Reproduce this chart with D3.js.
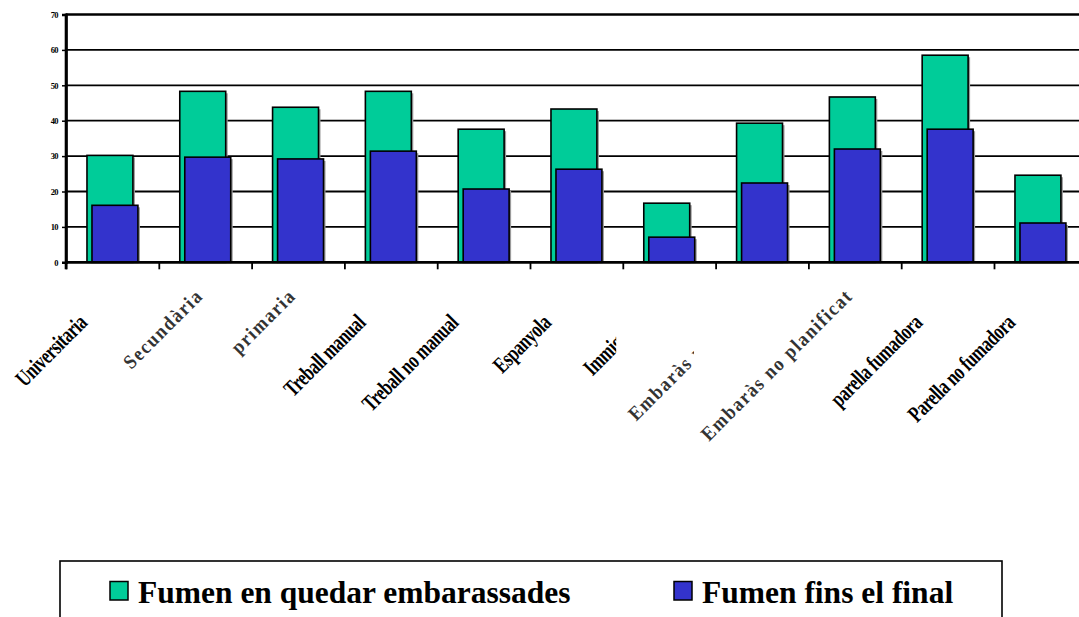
<!DOCTYPE html>
<html>
<head>
<meta charset="utf-8">
<script src="https://cdn.jsdelivr.net/npm/d3@7"></script>
<style>
  html, body { margin: 0; padding: 0; background: #fff; overflow: hidden; }
  svg { display: block; }
</style>
</head>
<body>
<svg id="chart" width="1079" height="617"></svg>
<script>
// ---- data ----
const categories = ["Universitaria", "Secundària", "primaria", "Treball manual", "Treball no manual",
  "Espanyola", "Immigrant", "Embaràs planificat", "Embaràs no planificat", "parella fumadora", "Parella no fumadora"];
const fumenInici = [30.2, 48.3, 43.8, 48.3, 37.6, 43.3, 16.7, 39.3, 46.7, 58.5, 24.6];
const fumenFinal = [16.1, 29.7, 29.2, 31.4, 20.7, 26.3, 7.1, 22.4, 32.0, 37.6, 11.1];
const yTicks = [0, 10, 20, 30, 40, 50, 60, 70];
const seriesNames = ["Fumen en quedar embarassades", "Fumen fins el final"];

// ---- style / layout ----
const colors = ["#00CC99", "#3333CC"];
const grayLabels = new Set(["Secundària", "primaria", "Embaràs planificat", "Embaràs no planificat"]);
const clippedLabels = { "Immigrant": -53, "Embaràs planificat": -68 }; // clip edge relative to category centre
const serif = "'Liberation Serif', 'Times New Roman', serif";

const svg = d3.select("#chart");
const plotLeft = 66, plotTop = 14.5, plotBottom = 262.3, step = 92.8;
const x = d3.scaleBand().domain(categories).range([plotLeft, plotLeft + step * categories.length]).padding(0);
const y = d3.scaleLinear().domain([0, 70]).range([plotBottom, plotTop]);
const plotRight = x.range()[1];

// gridlines
svg.append("g").selectAll("line").data(yTicks).join("line")
  .attr("x1", plotLeft).attr("x2", plotRight)
  .attr("y1", d => y(d)).attr("y2", d => y(d))
  .attr("stroke", "#000")
  .attr("stroke-width", d => (d === 0 || d === 70) ? 2.6 : 1.8);

// y axis
const yAxis = svg.append("g").attr("transform", `translate(${plotLeft},0)`)
  .call(d3.axisLeft(y).tickValues(yTicks).tickSize(4).tickPadding(4));
yAxis.select(".domain").attr("stroke", "#000").attr("stroke-width", 2.6);
yAxis.selectAll(".tick line").attr("stroke", "#000").attr("stroke-width", 1.5);
yAxis.selectAll(".tick text")
  .attr("font-family", serif).attr("font-weight", "bold").attr("font-size", 8.5)
  .attr("letter-spacing", -0.6).attr("fill", "#000");

// x axis ticks at category boundaries
const xAxis = svg.append("g").attr("transform", `translate(0,${plotBottom})`)
  .call(d3.axisBottom(d3.scaleLinear().domain([0, categories.length]).range([plotLeft, plotRight]))
    .tickValues(d3.range(0, categories.length + 1)).tickSize(7).tickFormat(""));
xAxis.select(".domain").remove();
xAxis.selectAll(".tick line").attr("stroke", "#000").attr("stroke-width", 1.8);

// bars
const bw = step * 0.495;
const offsets = [step * 0.226, step * 0.28];
[fumenInici, fumenFinal].forEach((vals, s) => {
  const g = svg.append("g");
  const data = categories.map((c, i) => ({ c, v: vals[i] }));
  g.selectAll("rect.shadow").data(data).join("rect").attr("class", "shadow")
    .attr("x", d => x(d.c) + offsets[s] + 2).attr("y", d => y(d.v) + 2)
    .attr("width", bw).attr("height", d => plotBottom - y(d.v) - 2)
    .attr("fill", "#9a9a9a");
  g.selectAll("rect.bar").data(data).join("rect").attr("class", "bar")
    .attr("x", d => x(d.c) + offsets[s]).attr("y", d => y(d.v))
    .attr("width", bw).attr("height", d => plotBottom - y(d.v))
    .attr("fill", colors[s]).attr("stroke", "#000").attr("stroke-width", 1.6);
});

// redraw zero line and axis on top
svg.append("line").attr("x1", plotLeft).attr("x2", plotRight).attr("y1", y(0)).attr("y2", y(0))
  .attr("stroke", "#000").attr("stroke-width", 2.6);
svg.append("line").attr("x1", plotLeft).attr("x2", plotLeft).attr("y1", y(70) - 1).attr("y2", y(0) + 7)
  .attr("stroke", "#000").attr("stroke-width", 2.6);

// category labels
const defs = svg.append("defs");
const labels = svg.append("g");
categories.forEach((c, i) => {
  const cx = x(c) + x.bandwidth() / 2;
  const gray = grayLabels.has(c);
  const ax = gray ? cx - 1 : cx - 24;
  const ay = gray ? 297 : 324;
  let parent = labels;
  if (clippedLabels[c] !== undefined) {
    const id = "clip" + i;
    defs.append("clipPath").attr("id", id).append("rect")
      .attr("x", 0).attr("y", 250).attr("width", cx + clippedLabels[c]).attr("height", 300);
    parent = labels.append("g").attr("clip-path", `url(#${id})`);
  }
  parent.append("text")
    .attr("transform", gray
      ? `translate(${ax},${ay}) rotate(-45) scale(0.9,1)`
      : `translate(${ax},${ay}) rotate(-45) scale(0.72,1)`)
    .attr("text-anchor", "end")
    .attr("font-family", serif)
    .attr("font-weight", "bold")
    .attr("font-size", gray ? 20 : 23)
    .attr("letter-spacing", gray ? 1.8 : -0.4)
    .attr("fill", gray ? "#333" : "#000")
    .text(c);
});

// legend
const lg = svg.append("g");
lg.append("rect").attr("x", 60).attr("y", 561).attr("width", 942).attr("height", 90)
  .attr("fill", "#fff").attr("stroke", "#000").attr("stroke-width", 1.6);
const legendX = [110, 674];
seriesNames.forEach((n, i) => {
  lg.append("rect").attr("x", legendX[i]).attr("y", 581.5).attr("width", 18).attr("height", 18.5)
    .attr("fill", colors[i]).attr("stroke", "#000").attr("stroke-width", 1.5);
  lg.append("text").attr("x", legendX[i] + 28).attr("y", 603)
    .attr("font-family", serif).attr("font-weight", "bold").attr("font-size", 31.5)
    .attr("fill", "#000").text(n);
});
</script>
</body>
</html>
